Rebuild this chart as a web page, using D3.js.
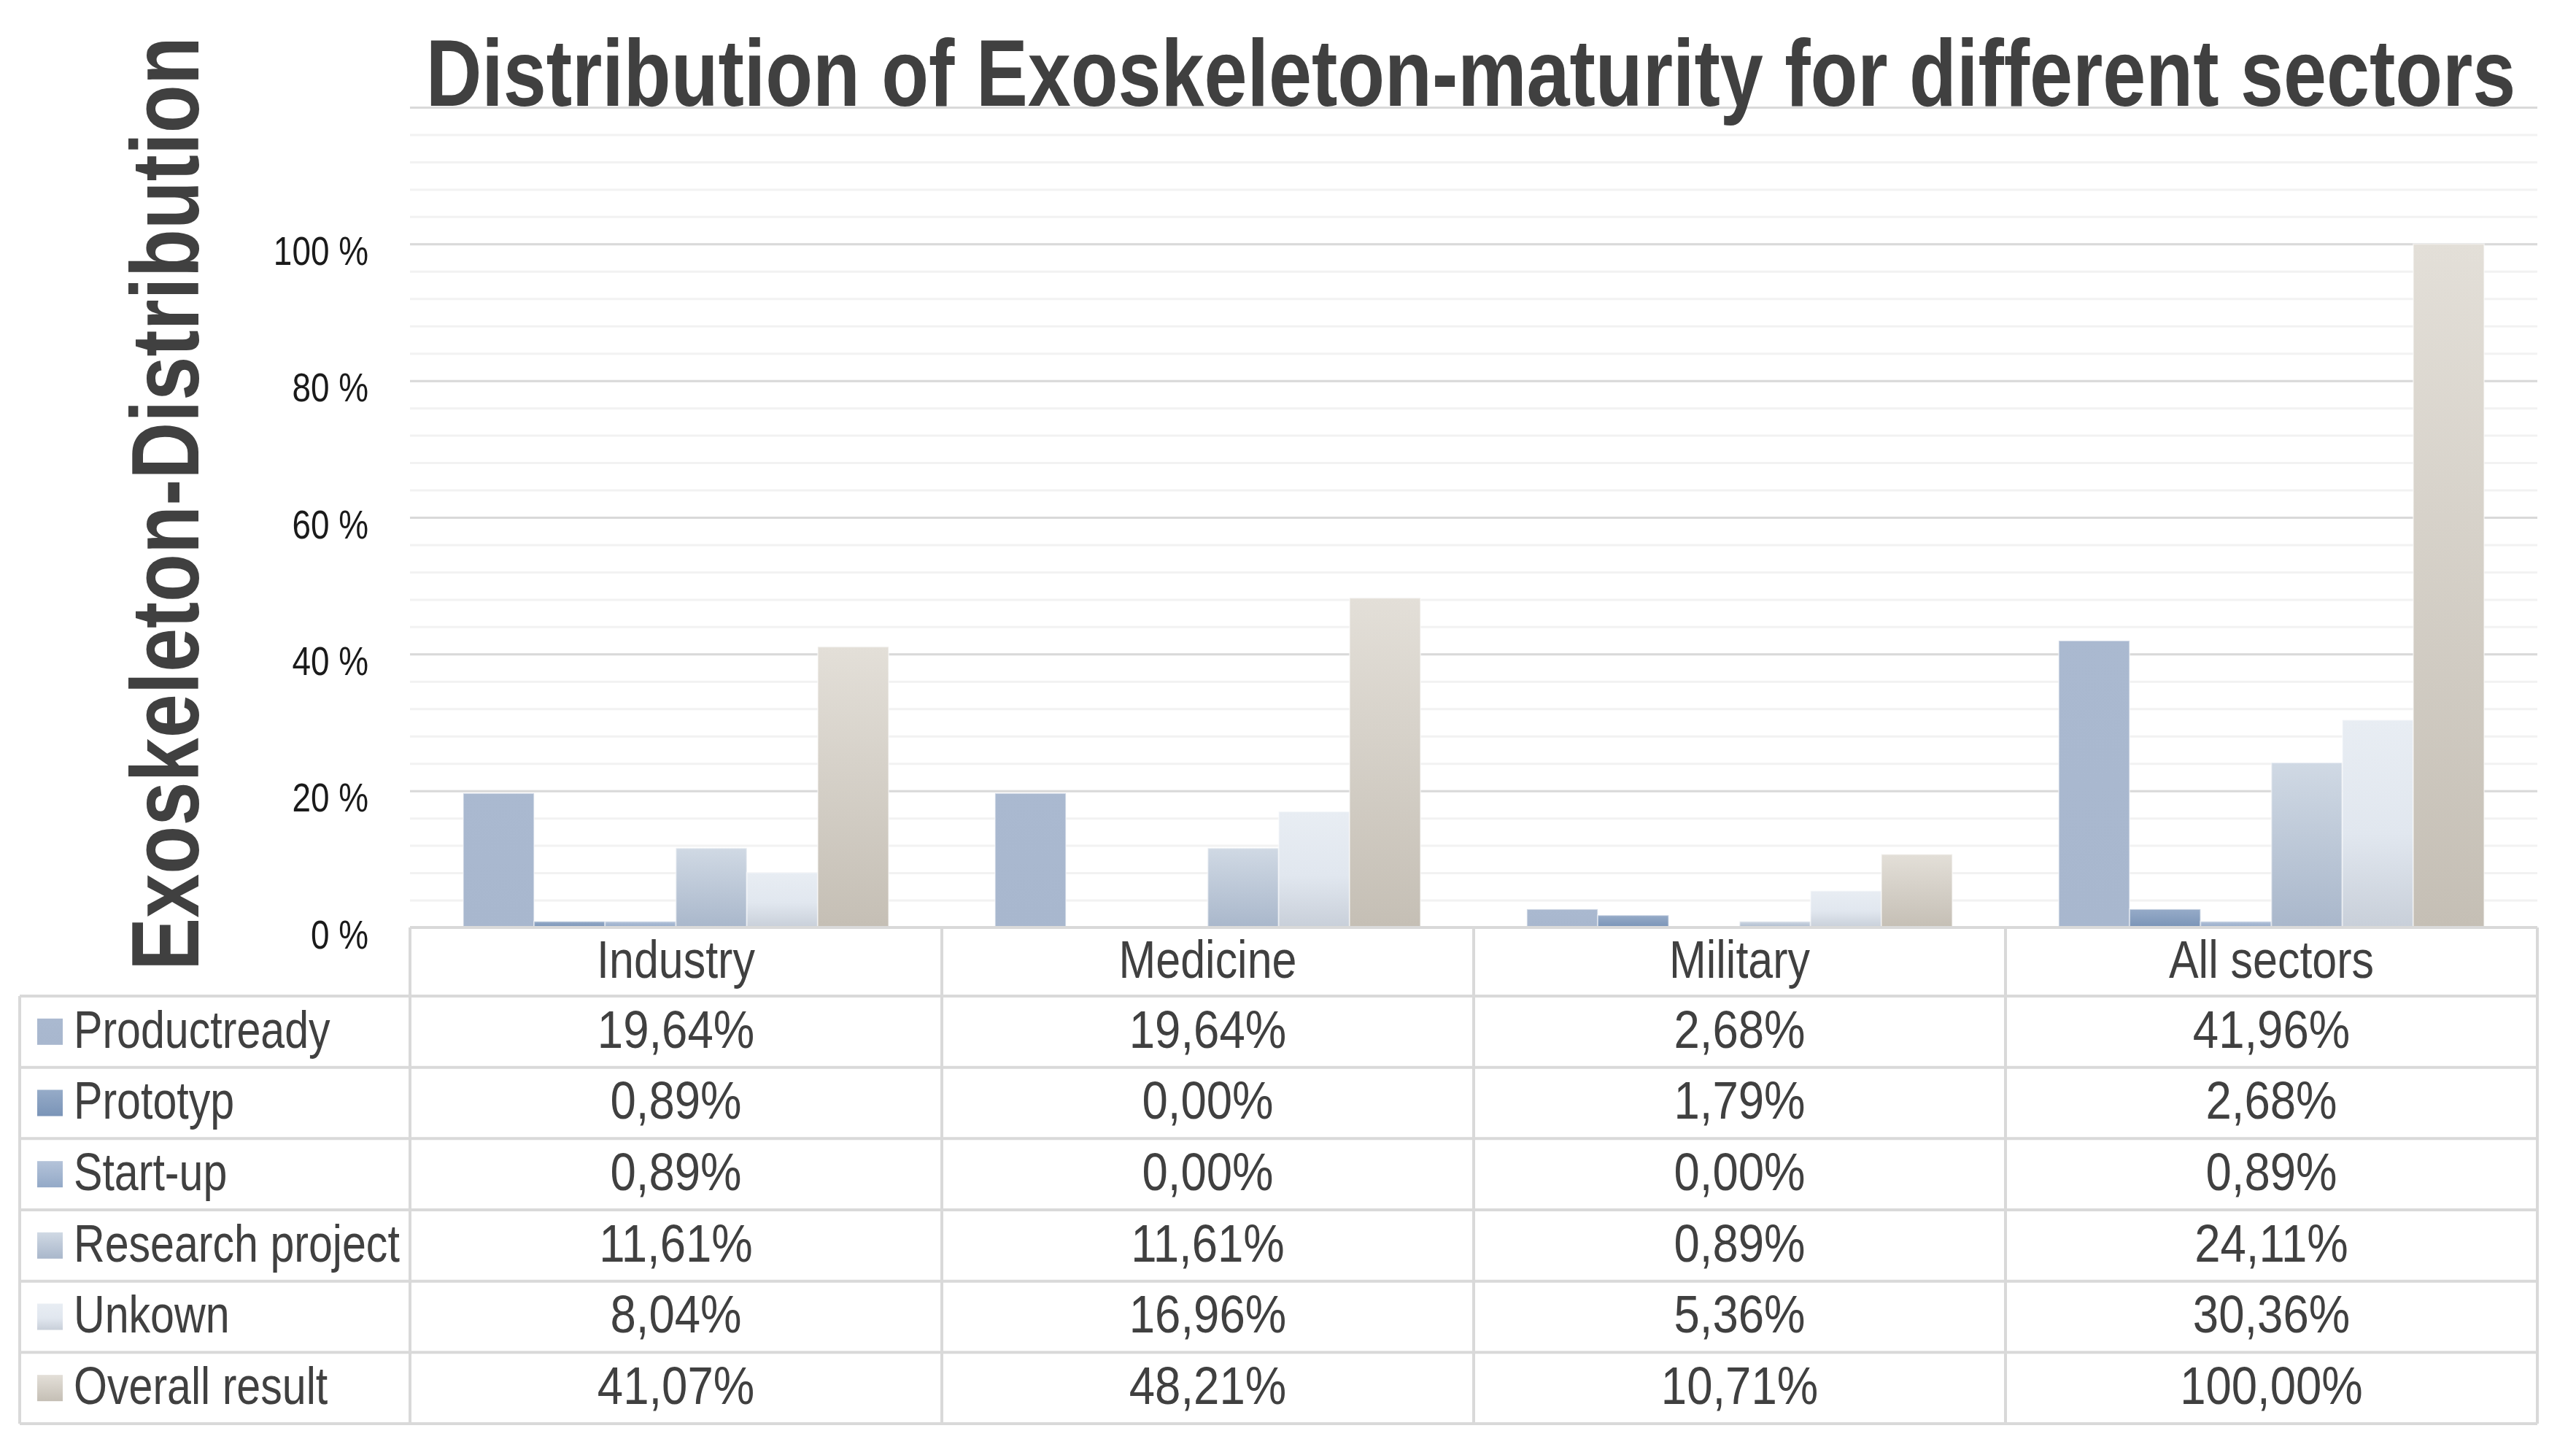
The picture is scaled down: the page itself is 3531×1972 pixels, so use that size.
<!DOCTYPE html>
<html>
<head>
<meta charset="utf-8">
<script src="https://d3js.org/d3.v7.min.js"></script>
<style>
  body { margin: 0; background: #ffffff; }
  svg { display: block; }
</style>
</head>
<body>
<svg width="3531" height="1972"></svg>
<script>
// chart data
const categories = ['Industry', 'Medicine', 'Military', 'All sectors']
const seriesNames = ['Productready', 'Prototyp', 'Start-up', 'Research project', 'Unkown', 'Overall result']
const productready = [19.64, 19.64, 2.68, 41.96]
const prototyp = [0.89, 0.00, 1.79, 2.68]
const startUp = [0.89, 0.00, 0.00, 0.89]
const researchProject = [11.61, 11.61, 0.89, 24.11]
const unkown = [8.04, 16.96, 5.36, 30.36]
const overallResult = [41.07, 48.21, 10.71, 100.00]
const yTickValues = [0, 20, 40, 60, 80, 100]

const seriesValues = [productready, prototyp, startUp, researchProject, unkown, overallResult]
const colorTop = ['#aab9d0', '#96abc8', '#b4c3d9', '#d0d9e4', '#e8edf3', '#e3dfd8']
const colorBottom = ['#a8b7ce', '#7a94b7', '#93a9c7', '#a9b7cb', '#c8cfd9', '#c5bfb5']

const svg = d3.select('svg')
const font = '"Liberation Sans", Arial, sans-serif'
const textColor = '#404040'

// narrow a text horizontally around its own x (no condensed font installed)
const squeeze = (sel, s) => sel.each(function () {
    const t = d3.select(this)
    const x = +t.attr('x') || 0
    t.attr('transform', `translate(${x * (1 - s)},0) scale(${s},1)`)
})

const render = () => {
    const plot = { left: 562, right: 3478, top: 147, bottom: 1271 }
    const table = { left: 27, headerBottom: 1365, bottom: 1951 }

    const x_scale = d3.scaleBand()
        .domain(categories)
        .range([plot.left, plot.right])

    const x_inner = d3.scaleBand()
        .domain(seriesNames)
        .range([0, x_scale.bandwidth()])
        .paddingOuter(0.75)

    const y_scale = d3.scaleLinear()
        .domain([0, 120])
        .range([plot.bottom, plot.top])

    const row_scale = d3.scaleBand()
        .domain(seriesNames)
        .range([table.headerBottom, table.bottom])

    // gradients
    const defs = svg.append('defs')
    seriesNames.forEach((s, i) => {
        const g = defs.append('linearGradient')
            .attr('id', 'grad' + i)
            .attr('x1', 0).attr('y1', 0).attr('x2', 0).attr('y2', 1)
        g.append('stop').attr('offset', '0%').attr('stop-color', colorTop[i])
        if (i === 4) g.append('stop').attr('offset', '55%').attr('stop-color', '#e1e7ef')
        g.append('stop').attr('offset', '100%').attr('stop-color', colorBottom[i])
    })

    // minor gridlines
    svg.append('g')
        .attr('transform', `translate(${plot.left},0)`)
        .call(d3.axisLeft(y_scale).tickValues(d3.range(0, 121, 4)).tickSize(-(plot.right - plot.left)).tickFormat(''))
        .call(g => g.select('.domain').remove())
        .selectAll('line').attr('stroke', '#f2f2f2').attr('stroke-width', 3)

    // major gridlines
    svg.append('g')
        .attr('transform', `translate(${plot.left},0)`)
        .call(d3.axisLeft(y_scale).tickValues(d3.range(0, 121, 20)).tickSize(-(plot.right - plot.left)).tickFormat(''))
        .call(g => g.select('.domain').remove())
        .selectAll('line').attr('stroke', '#d9d9d9').attr('stroke-width', 3)

    // y tick labels
    svg.append('g')
        .attr('transform', `translate(${plot.left},0)`)
        .call(d3.axisLeft(y_scale).tickValues(yTickValues).tickSize(0).tickPadding(57).tickFormat(d => d + ' %'))
        .call(g => g.select('.domain').remove())
        .selectAll('text')
        .attr('font-family', font)
        .attr('font-size', 56)
        .attr('fill', '#1a1a1a')
        .attr('dy', '0.5em')
        .call(squeeze, 0.82)

    // bars
    const groups = svg.append('g').selectAll('g')
        .data(categories)
        .enter().append('g')
        .attr('transform', d => `translate(${x_scale(d)},0)`)

    groups.selectAll('rect')
        .data((c, ci) => seriesNames.map((s, si) => ({ s, si, v: seriesValues[si][ci] })))
        .enter().append('rect')
        .filter(d => d.v > 0)
        .attr('x', d => x_inner(d.s))
        .attr('y', d => y_scale(d.v))
        .attr('width', x_inner.bandwidth())
        .attr('height', d => y_scale(0) - y_scale(d.v))
        .attr('fill', d => `url(#grad${d.si})`)
        .attr('stroke', '#ffffff')
        .attr('stroke-opacity', 0.45)
        .attr('stroke-width', 2)

    // data table lines
    const lines = svg.append('g')
        .attr('stroke', '#d9d9d9')
        .attr('stroke-width', 4)
        .attr('fill', 'none')

    lines.append('line')
        .attr('x1', plot.left).attr('x2', plot.right)
        .attr('y1', plot.bottom).attr('y2', plot.bottom)

    seriesNames.forEach(s => {
        lines.append('line')
            .attr('x1', table.left).attr('x2', plot.right)
            .attr('y1', row_scale(s)).attr('y2', row_scale(s))
    })
    lines.append('line')
        .attr('x1', table.left).attr('x2', plot.right)
        .attr('y1', table.bottom).attr('y2', table.bottom)

    lines.append('line')
        .attr('x1', table.left).attr('x2', table.left)
        .attr('y1', table.headerBottom).attr('y2', table.bottom)

    categories.forEach(c => {
        lines.append('line')
            .attr('x1', x_scale(c)).attr('x2', x_scale(c))
            .attr('y1', plot.bottom).attr('y2', table.bottom)
    })
    lines.append('line')
        .attr('x1', plot.right).attr('x2', plot.right)
        .attr('y1', plot.bottom).attr('y2', table.bottom)

    // category header
    svg.append('g')
        .attr('transform', `translate(0,${(plot.bottom + table.headerBottom) / 2})`)
        .selectAll('text')
        .data(categories)
        .enter().append('text')
        .attr('x', d => x_scale(d) + x_scale.bandwidth() / 2)
        .attr('dy', '0.3em')
        .attr('text-anchor', 'middle')
        .attr('font-family', font)
        .attr('font-size', 73)
        .attr('fill', textColor)
        .text(d => d)
        .call(squeeze, 0.835)

    // legend keys and row labels
    const rows = svg.append('g').selectAll('g')
        .data(seriesNames)
        .enter().append('g')
        .attr('transform', d => `translate(0,${row_scale(d) + row_scale.bandwidth() / 2})`)

    rows.append('rect')
        .attr('x', 51)
        .attr('y', -18)
        .attr('width', 35)
        .attr('height', 36)
        .attr('fill', (d, i) => `url(#grad${i})`)

    rows.append('text')
        .attr('x', 101)
        .attr('dy', '0.3em')
        .attr('font-family', font)
        .attr('font-size', 73)
        .attr('fill', textColor)
        .text(d => d)
        .call(squeeze, 0.81)

    // values
    rows.each(function (s, si) {
        d3.select(this).selectAll('text.val')
            .data(categories)
            .enter().append('text')
            .attr('class', 'val')
            .attr('x', c => x_scale(c) + x_scale.bandwidth() / 2)
            .attr('dy', '0.3em')
            .attr('text-anchor', 'middle')
            .attr('font-family', font)
            .attr('font-size', 73)
            .attr('fill', textColor)
            .text((c, ci) => seriesValues[si][ci].toFixed(2).replace('.', ',') + '%')
            .call(squeeze, 0.87)
    })

    // title, squeezed to the width it has in the original
    const title = svg.append('text')
        .attr('text-anchor', 'middle')
        .attr('font-family', font)
        .attr('font-weight', 'bold')
        .attr('font-size', 130)
        .attr('fill', textColor)
        .text('Distribution of Exoskeleton-maturity for different sectors')
    const tw = title.node().getComputedTextLength()
    title.attr('transform', `translate(${(plot.left + plot.right) / 2 - 4},145) scale(${2865 / tw},1)`)

    // y axis title
    const ytitle = svg.append('text')
        .attr('text-anchor', 'middle')
        .attr('font-family', font)
        .attr('font-weight', 'bold')
        .attr('font-size', 132)
        .attr('fill', textColor)
        .text('Exoskeleton-Distribution')
    const yw = ytitle.node().getComputedTextLength()
    ytitle.attr('transform', `translate(272,690) rotate(-90) scale(${1280 / yw},1)`)
}

render()
</script>
</body>
</html>
